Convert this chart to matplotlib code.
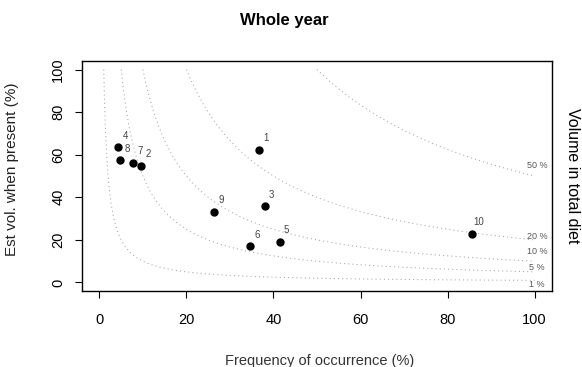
import numpy as np
import matplotlib
matplotlib.use('Agg')
import matplotlib.pyplot as plt

plt.rcParams['font.family'] = ['Liberation Sans', 'DejaVu Sans']

# prey items: frequency of occurrence (%) vs estimated volume when present (%)
prey_id = ['1', '2', '3', '4', '5', '6', '7', '8', '9', '10']
freq = [36.6, 9.6, 38.0, 4.3, 41.4, 34.6, 7.8, 4.8, 26.3, 85.6]
vol_present = [62.4, 54.9, 35.7, 63.8, 19.2, 16.9, 56.3, 57.3, 33.3, 23.0]

# isolines of volume in total diet (%)
iso_levels = [1, 5, 10, 20, 50]
iso_labels = ['1 %', '5 %', '10 %', '20 %', '50 %']
iso_label_y = [-0.8, 7.0, 14.6, 21.5, 55.0]

fig = plt.figure(figsize=(5.82, 3.67), dpi=100)
ax = fig.add_axes([82/582, 1-291/367, (552-82)/582, (291-61)/367])

# contour surface: volume in total diet = F * V / 100
F, V = np.meshgrid(np.linspace(0.3, 100, 500), np.linspace(0.3, 100, 500))
ax.contour(F, V, F*V/100, levels=iso_levels, colors='#a5a5a5',
           linestyles=[(0, (1, 3))], linewidths=0.75)
for lab, y in zip(iso_labels, iso_label_y):
    ax.text(100.6, y, lab, fontsize=6.5, color='#555555', ha='center', va='center')

ax.plot(freq, vol_present, 'o', color='black', markersize=5, zorder=3)
for lab, x, y in zip(prey_id, freq, vol_present):
    ax.annotate(lab, (x, y), xytext=(5, 8), textcoords='offset points',
                fontsize=7, color='#444444', ha='center', va='center')

ax.set_xlim(-4, 104)
ax.set_ylim(-4, 104)
ax.set_xticks([0, 20, 40, 60, 80, 100])
ax.set_yticks([0, 20, 40, 60, 80, 100])
ax.tick_params(axis='x', labelsize=10.5, length=5, pad=11)
ax.tick_params(axis='y', labelsize=10.5, length=5, pad=7)
for t in ax.get_yticklabels():
    t.set_rotation(90)
    t.set_va('center')
for s in ax.spines.values():
    s.set_linewidth(1.0)

fig.text(320/582, 1-361/367, 'Frequency of occurrence (%)', fontsize=10.5,
         ha='center', va='center', color='#333333')
fig.text(12/582, 1-169/367, 'Est vol. when present (%)', fontsize=11,
         ha='center', va='center', rotation=90, color='#222222')
fig.text(572/582, 1-176/367, 'Volume in total diet', fontsize=11.5,
         ha='center', va='center', rotation=-90)
fig.text(284/582, 1-20/367, 'Whole year', fontsize=12, fontweight='bold',
         ha='center', va='center')

fig.savefig('out.png', dpi=100)
